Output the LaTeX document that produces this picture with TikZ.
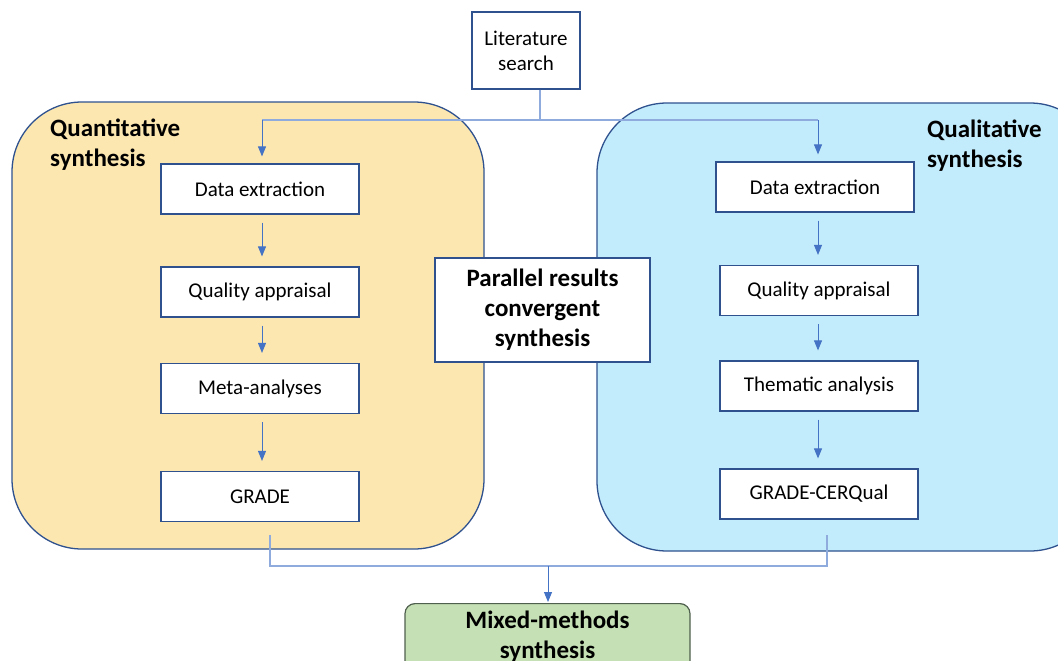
\documentclass[tikz,border=0pt]{standalone}
\usepackage{fontspec}
\setmainfont{Carlito}
\usetikzlibrary{arrows.meta}
\definecolor{panelY}{HTML}{FCE7B1}
\definecolor{panelB}{HTML}{C2ECFB}
\definecolor{edgeB}{HTML}{2F528F}
\definecolor{arrB}{HTML}{4472C4}
\definecolor{lineB}{HTML}{8FAADC}
\definecolor{greenF}{HTML}{C5E0B4}
\definecolor{greenE}{HTML}{50604F}
\tikzset{
  panel/.style={draw=edgeB, line width=1.3pt, rounded corners=70pt},
  stepbox/.style={draw=edgeB, line width=1.2pt, fill=white, minimum width=198pt, minimum height=50pt, font=\fontsize{21}{25}\selectfont, inner sep=0pt},
  bigbox/.style={draw=edgeB, line width=1.2pt, fill=white, font=\bfseries\fontsize{25}{30}\selectfont, align=center, inner sep=0pt},
  title/.style={font=\bfseries\fontsize{25}{30}\selectfont, inner sep=0pt},
  arr/.style={draw=arrB, line width=0.9pt, -{Triangle[width=8pt,length=10pt]}},
  conn/.style={draw=lineB, line width=1.2pt}
}
\begin{document}
\begin{tikzpicture}[x=1pt,y=-1pt]
\useasboundingbox (0,0) rectangle (1058,661);
\clip (0,0) rectangle (1058,661);
\fill[white] (0,0) rectangle (1058,661);
% panels
\draw[panel, fill=panelY] (12,102) rectangle (484,549);
\draw[panel, fill=panelB] (597,103) rectangle (1100,551);
\node[title, align=left, anchor=north west] (qt) at (50,119) {Quantitative\\synthesis};
\node[title, align=left, anchor=north west] (ql) at (927,120) {Qualitative\\synthesis};
% top
\node[draw=edgeB, line width=1.2pt, fill=white, minimum width=108pt, minimum height=77pt, align=center, font=\fontsize{21}{25}\selectfont, inner sep=0pt] (lit) at (526,50.5) {Literature\\search};
% left boxes
\node[stepbox] (l1) at (260,189) {Data extraction};
\node[stepbox] (l2) at (260,292) {Quality appraisal};
\node[stepbox] (l3) at (260,388.5) {Meta-analyses};
\node[stepbox] (l4) at (260,496.5) {GRADE};
% right boxes
\node[stepbox] (r1) at (815,187) {Data extraction};
\node[stepbox] (r2) at (819,290.5) {Quality appraisal};
\node[stepbox] (r3) at (819,386) {Thematic analysis};
\node[stepbox] (r4) at (819,494) {GRADE-CERQual};
% middle
\node[bigbox, minimum width=215pt, minimum height=104pt] (par) at (542.5,310) {Parallel results\\convergent\\synthesis};
% bottom
\node[draw=greenE, line width=1.2pt, fill=greenF, rounded corners=10pt, minimum width=285pt, minimum height=80pt, anchor=north, inner sep=0pt] (mix) at (547.5,603) {};
\node[font=\bfseries\fontsize{25}{30}\selectfont, align=center, anchor=north, inner sep=0pt] (mixt) at (547.5,611) {Mixed-methods\\synthesis};
% top connectors
\coordinate (tj) at (540,120);
\coordinate (tl) at (262,120);
\coordinate (tr) at (818,120);
\draw[conn] (lit.south -| tj) -- (tj);
\draw[conn] (tl) -- (tr);
\draw[arr] (tl) -- ([yshift=7pt]tl |- l1.north);
\draw[arr] (tr) -- ([yshift=7pt]tr |- r1.north);
% left arrows
\draw[arr] ([yshift=-8pt]l1.south -| tl) -- ([yshift=10pt]l2.north -| tl);
\draw[arr] ([yshift=-8pt]l2.south -| tl) -- ([yshift=10pt]l3.north -| tl);
\draw[arr] ([yshift=-8pt]l3.south -| tl) -- ([yshift=10pt]l4.north -| tl);
% right arrows
\draw[arr] ([yshift=-8pt]r1.south -| tr) -- ([yshift=10pt]r2.north -| tr);
\draw[arr] ([yshift=-8pt]r2.south -| tr) -- ([yshift=10pt]r3.north -| tr);
\draw[arr] ([yshift=-8pt]r3.south -| tr) -- ([yshift=10pt]r4.north -| tr);
% bottom connectors
\coordinate (bl) at (270,535);
\coordinate (br) at (827,535);
\coordinate (bj) at (548,566);
\draw[conn] (bl) -- (bl |- bj) -- (br |- bj) -- (br);
\draw[arr] (bj) -- ([yshift=1pt]bj |- mix.north);
\end{tikzpicture}
\end{document}
